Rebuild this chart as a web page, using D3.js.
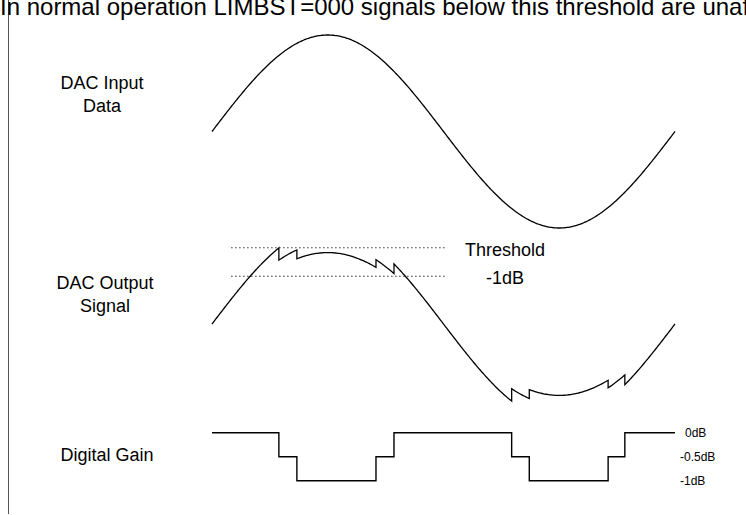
<!DOCTYPE html>
<html>
<head>
<meta charset="utf-8">
<script src="https://cdn.jsdelivr.net/npm/d3@7"></script>
<style>
  body { margin: 0; background: #fff; }
  svg { display: block; font-family: "Liberation Sans", Arial, sans-serif; }
</style>
</head>
<body>
<div id="chart"></div>
<script>
// phase of the wave, in degrees, one full period
var phaseRange = [0, 360];

// digital gain timeline: phase where each step starts, and its level
var stepPhase = [0, 52, 66, 127.5, 141.5, 233, 246.7, 308, 321, 360];
var stepGainDb = [0, -0.5, -1, -0.5, 0, -0.5, -1, -0.5, 0];

// gain levels, their labels and how much the output is squeezed at each
var gainLevels = [0, -0.5, -1];
var gainLabels = ["0dB", "-0.5dB", "-1dB"];
var gainShrink = [1, 0.84, 0.74];

// dotted guide levels (fraction of full amplitude) and their extent
var guideLevels = [0.79, 0.495];
var guideLabels = ["Threshold", "-1dB"];
var guidePhase = [15, 181];

var rowLabels = [["DAC Input", "Data"], ["DAC Output", "Signal"], ["Digital Gain"]];
var title = "In normal operation LIMBST=000 signals below this threshold are unaffected";

function buildChart(containerId) {
  var width = 746;
  var height = 515;

  var svg = d3.select(containerId)
    .append("svg")
    .attr("width", width)
    .attr("height", height);

  var x = d3.scaleLinear().domain(phaseRange).range([212, 675]);
  var yIn = d3.scaleLinear().domain([-1, 1]).range([228, 35]);
  var yOut = d3.scaleLinear().domain([-1, 1]).range([420.5, 227.5]);
  var yGain = d3.scaleLinear().domain([-1, 0]).range([480.7, 432.7]);

  var line = d3.line()
    .x(function(d) { return x(d[0]); })
    .y(function(d) { return d[1]; });

  function sinDeg(p) { return Math.sin(p * Math.PI / 180); }

  // input sine
  var inPts = d3.range(phaseRange[0], phaseRange[1] + 0.5, 1).map(function(p) {
    return [p, yIn(sinDeg(p))];
  });

  // output: sine scaled by the gain of each step, vertical jumps at the steps
  var outPts = [];
  for (var i = 0; i < stepGainDb.length; i++) {
    var k = gainShrink[gainLevels.indexOf(stepGainDb[i])];
    var p0 = stepPhase[i], p1 = stepPhase[i + 1];
    var ps = d3.range(p0, p1, 1).concat([p1]);
    ps.forEach(function(p) { outPts.push([p, yOut(k * sinDeg(p))]); });
  }

  // gain staircase
  var gainPts = [];
  stepGainDb.forEach(function(g, i) {
    gainPts.push([stepPhase[i], yGain(g)]);
    gainPts.push([stepPhase[i + 1], yGain(g)]);
  });

  // left rule
  svg.append("line")
    .attr("x1", 8.5).attr("x2", 8.5)
    .attr("y1", 0).attr("y2", 514)
    .attr("stroke", "#555")
    .attr("stroke-width", 1);

  svg.append("text")
    .attr("x", 0)
    .attr("y", 15)
    .attr("font-size", 24)
    .attr("fill", "#000")
    .text(title);

  svg.append("path")
    .attr("d", line(inPts))
    .attr("fill", "none")
    .attr("stroke", "#000")
    .attr("stroke-width", 1.3);

  // dotted guides
  svg.selectAll(".guide")
    .data(guideLevels)
    .enter()
    .append("line")
    .attr("class", "guide")
    .attr("x1", x(guidePhase[0]))
    .attr("x2", x(guidePhase[1]))
    .attr("y1", function(d) { return yOut(d); })
    .attr("y2", function(d) { return yOut(d); })
    .attr("stroke", "#000")
    .attr("stroke-width", 1.2)
    .attr("stroke-dasharray", "1.2,2.8");

  svg.selectAll(".guideLabel")
    .data(guideLabels)
    .enter()
    .append("text")
    .attr("class", "guideLabel")
    .attr("x", 505)
    .attr("y", function(d, i) { return yOut(guideLevels[i]) + 8; })
    .attr("text-anchor", "middle")
    .attr("font-size", 18)
    .text(function(d) { return d; });

  svg.append("path")
    .attr("d", line(outPts))
    .attr("fill", "none")
    .attr("stroke", "#000")
    .attr("stroke-width", 1.3)
    .attr("stroke-linejoin", "miter");

  svg.append("path")
    .attr("d", line(gainPts))
    .attr("fill", "none")
    .attr("stroke", "#000")
    .attr("stroke-width", 1.4);

  svg.selectAll(".gainLabel")
    .data(gainLabels)
    .enter()
    .append("text")
    .attr("class", "gainLabel")
    .attr("x", function(d, i) { return i == 0 ? 685 : 680; })
    .attr("y", function(d, i) { return yGain(gainLevels[i]) + 4; })
    .attr("font-size", 12)
    .text(function(d) { return d; });

  // row labels on the left
  var rowY = [89.3, 289.3, 461];
  var rowX = [102, 105, 107];
  rowLabels.forEach(function(lines, r) {
    var t = svg.append("text")
      .attr("text-anchor", "middle")
      .attr("font-size", 18);
    lines.forEach(function(s, j) {
      t.append("tspan")
        .attr("x", rowX[r])
        .attr("y", rowY[r] + j * 23)
        .text(s);
    });
  });
}

buildChart("#chart");
</script>
</body>
</html>
